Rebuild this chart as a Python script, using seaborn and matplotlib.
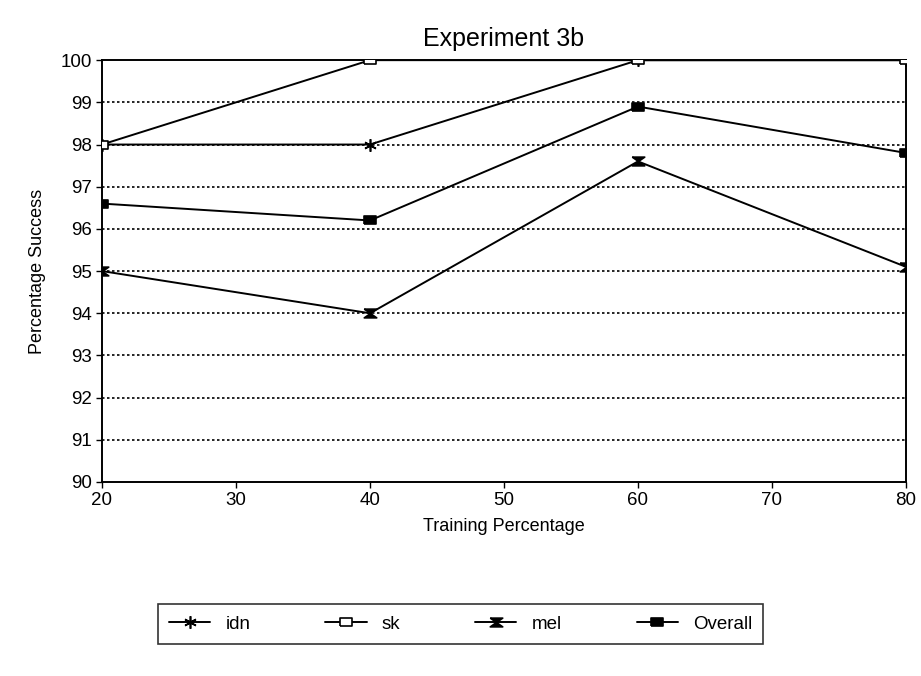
import matplotlib
matplotlib.use("Agg")
import matplotlib.pyplot as plt
import seaborn as sns
import pandas as pd

x_vals = [20, 40, 60, 80]
idn = [98.0, 98.0, 100.0, 100.0]
sk = [98.0, 100.0, 100.0, 100.0]
mel = [95.0, 94.0, 97.6, 95.1]
overall = [96.6, 96.2, 98.9, 97.8]
series_names = ["idn", "sk", "mel", "Overall"]
y_ticks = list(range(90, 101))
x_ticks = [20, 30, 40, 50, 60, 70, 80]

rows = []
for name, vals in zip(series_names, [idn, sk, mel, overall]):
    for xv, yv in zip(x_vals, vals):
        rows.append({"Training Percentage": xv, "Percentage Success": yv, "series": name})
df = pd.DataFrame(rows)

sns.set_theme(style="white")
plt.rcParams['font.family'] = ['Liberation Sans', 'DejaVu Sans']
plt.rcParams['text.color'] = 'black'
plt.rcParams['axes.labelcolor'] = 'black'

fig = plt.figure(figsize=(9.21, 6.76), dpi=100)
ax = fig.add_axes([0.1107, 0.287, 0.8730, 0.624])

hourglass = [(-1, 0.7), (1, 0.7), (-1, -0.7), (1, -0.7), (-1, 0.7)]
rect = [(-1, -0.6), (1, -0.6), (1, 0.6), (-1, 0.6), (-1, -0.6)]
marker_map = {"idn": (6, 2, 0), "sk": rect, "mel": hourglass, "Overall": rect}
face_map = {"idn": "black", "sk": "white", "mel": "black", "Overall": "black"}

handles = []
for name in series_names:
    sub = df[df["series"] == name]
    sns.lineplot(data=sub, x="Training Percentage", y="Percentage Success",
                 color="black", marker=marker_map[name], markersize=9,
                 markerfacecolor=face_map[name], markeredgecolor="black",
                 markeredgewidth=1.2, linewidth=1.4, ax=ax, legend=False,
                 zorder=3)
    handles.append(plt.Line2D([], [], color="black", linewidth=1.4, marker=marker_map[name],
                              markersize=9, markerfacecolor=face_map[name],
                              markeredgecolor="black", markeredgewidth=1.2))

for yv in y_ticks[1:-1]:
    ax.axhline(yv, color="black", linestyle=(0, (1.5, 1.5)), linewidth=1.2, zorder=0)

ax.set_xlim(20, 80)
ax.set_ylim(90, 100)
ax.set_xticks(x_ticks)
ax.set_yticks(y_ticks)
ax.tick_params(axis="both", direction="out", length=4, width=1, colors="black",
               labelsize=13.5, bottom=True, left=True)
for s in ax.spines.values():
    s.set_color("black")
    s.set_linewidth(1.4)

ax.set_title("Experiment 3b", fontsize=18, pad=10, color="black")
ax.set_xlabel("Training Percentage", fontsize=13, labelpad=6)
ax.set_ylabel("Percentage Success", fontsize=13, labelpad=10)

leg = fig.legend(handles, series_names, loc="center", bbox_to_anchor=(0.5, 0.077),
                 ncol=4, frameon=True, fancybox=False, edgecolor="black",
                 fontsize=13.5, columnspacing=4.0, handlelength=2.2, borderpad=0.6)
leg.get_frame().set_linewidth(1.2)

fig.savefig("out.png", dpi=100, facecolor="white")
